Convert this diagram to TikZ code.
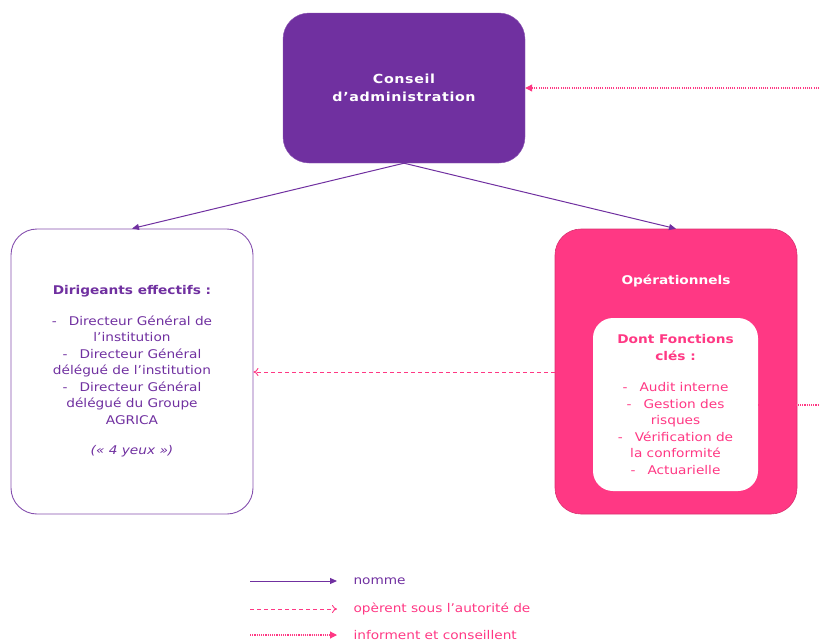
\documentclass[tikz,border=0pt]{standalone}
\usepackage{fontspec}
\setmainfont[FakeStretch=1.14]{DejaVu Sans}
\usepackage{tikz}
\usetikzlibrary{positioning, arrows.meta}
\usepackage{xcolor}
\definecolor{cavio}{RGB}{112,48,160}
\definecolor{carose}{RGB}{255,56,132}

\begin{document}
\begin{tikzpicture}[x=1pt, y=-1pt,
                  box/.style={rounded corners=26pt, inner sep=0pt, align=center,
                              minimum width=242pt, minimum height=285pt,
                              font=\fontsize{12}{16.5}\selectfont},
                  ca/.style={box, fill=cavio, draw=cavio!80, text=white,
                             minimum height=150pt,
                             font=\fontsize{12.5}{18}\selectfont\bfseries\addfontfeature{LetterSpace=5}},
                  dir/.style={box, draw=cavio!85, line width=0.9pt, text=cavio},
                  ope/.style={box, fill=carose, draw=carose!85!black, line width=0.6pt},
                  fkey/.style={box, fill=white, text=carose, rounded corners=20pt,
                               minimum width=165pt, minimum height=173pt},
                  nomme/.style={-{Triangle[length=7pt, width=6pt]}, draw=cavio, line width=1pt},
                  autor/.style={-{To[length=5pt, width=8pt]}, draw=carose, line width=0.9pt,
                                dash pattern=on 4pt off 3pt},
                  inform/.style={-{Triangle[length=7pt, width=7pt]}, draw=carose, line width=1.1pt,
                                 dash pattern=on 1.1pt off 1.1pt},
                  leg/.style={anchor=west, font=\fontsize{12}{14}\selectfont},
            ]
            \useasboundingbox (0,0) rectangle (819,643);

            \node[ca] (conseil) at (404,88) {Conseil\\d’administration};
            \node[dir] (dirig) at (132,371.5) {\textbf{Dirigeants effectifs :}\\[14pt]
                  -\quad Directeur Général de\\ l’institution\\
                  -\quad Directeur Général\\ délégué de l’institution\\
                  -\quad Directeur Général\\ délégué du Groupe\\ AGRICA\\[14pt]
                  \textit{(« 4 yeux »)}};
            \node[ope] (operat) at (676,371.5) {};
            \node[text=white, font=\fontsize{12}{14}\selectfont\bfseries] (optitre) at (676,281) {Opérationnels};
            \node[fkey] (fonctions) at (675.5,404.5) {\textbf{Dont Fonctions}\\ \textbf{clés :}\\[15pt]
                  -\quad Audit interne\\ -\quad Gestion des\\ risques\\
                  -\quad Vérification de\\ la conformité\\ -\quad Actuarielle};

            \coordinate (extca) at (819,88);
            \coordinate (extfk) at (819,405);

            \draw[nomme] (conseil.south) -- (dirig.north);
            \draw[nomme] (conseil.south) -- (operat.north);
            \draw[autor] (operat.west |- 0,372) -- (dirig.east |- 0,372);
            \draw[inform] (extca) -- (conseil.east);
            \draw[inform, -] (fonctions.east |- extfk) -- (extfk);

            % legende
            \coordinate (l1a) at (250,581); \coordinate (l1b) at (337,581);
            \coordinate (l2a) at (250,609); \coordinate (l2b) at (337,609);
            \coordinate (l3a) at (250,635); \coordinate (l3b) at (337,635);
            \draw[nomme] (l1a) -- (l1b);
            \draw[autor] (l2a) -- (l2b);
            \draw[inform] (l3a) -- (l3b);
            \node[leg, text=cavio] (lnomme) at (350,581) {nomme};
            \node[leg, text=carose] (lautor) at (350,609) {opèrent sous l’autorité de};
            \node[leg, text=carose] (linform) at (350,635) {informent et conseillent};

      \end{tikzpicture}
\end{document}
